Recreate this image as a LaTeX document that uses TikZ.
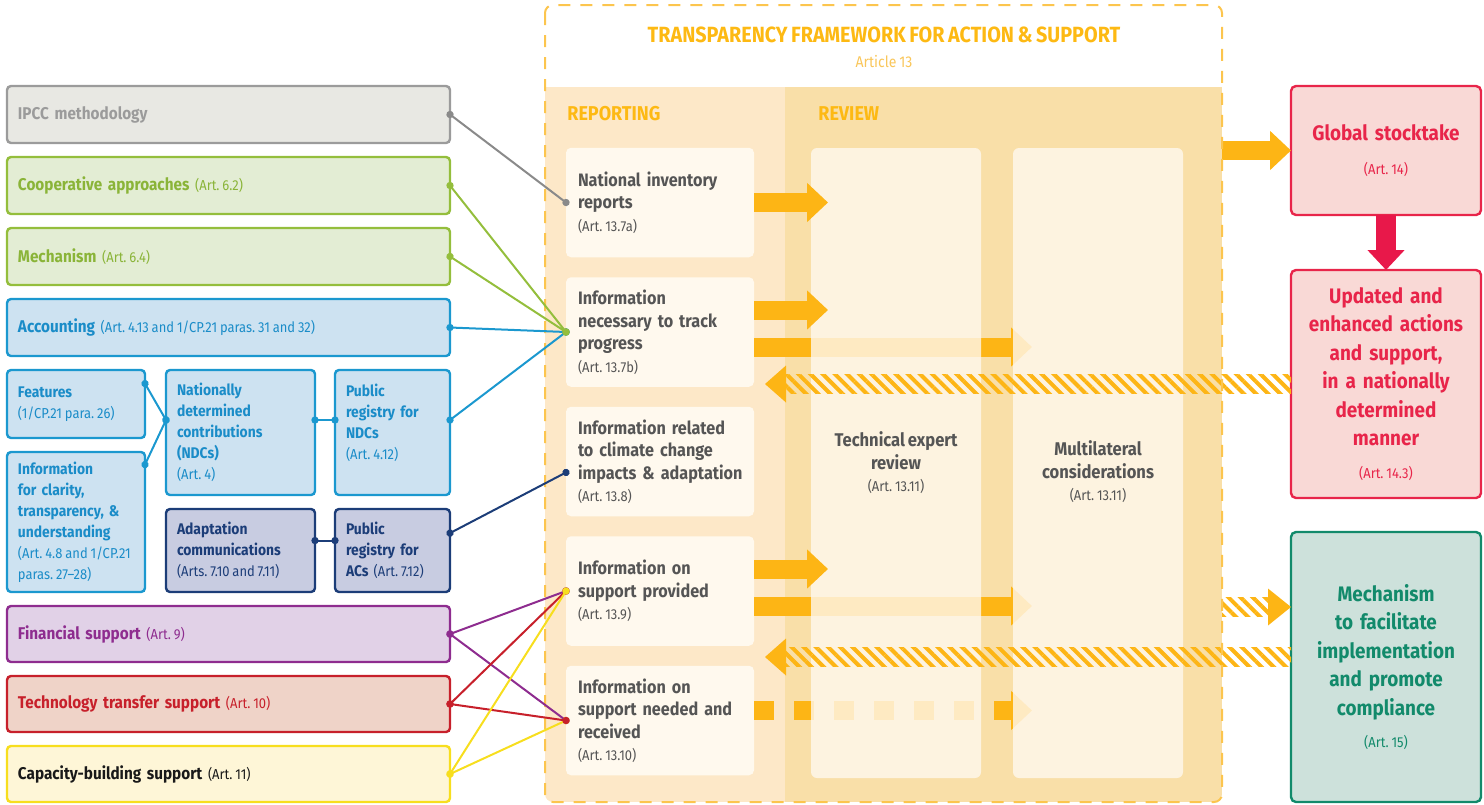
\documentclass[tikz,border=0pt]{standalone}
\usepackage{fontspec}
\setmainfont{Fira Sans}[FakeStretch=0.9, WordSpace=0.75]
\usepackage{tikz}
\usetikzlibrary{arrows.meta, positioning, calc, patterns.meta}

\definecolor{gryFg}{HTML}{9B9B9B}
\definecolor{gryBg}{HTML}{E8E8E3}
\definecolor{gryLn}{HTML}{8A8A8A}
\definecolor{grnFg}{HTML}{94BE3C}
\definecolor{grnTx}{HTML}{8AB438}
\definecolor{grnBg}{HTML}{E3EDD4}
\definecolor{bluFg}{HTML}{1B98CF}
\definecolor{bluTx}{HTML}{1A8CC8}
\definecolor{bluBg}{HTML}{CDE2F1}
\definecolor{navFg}{HTML}{1C3D78}
\definecolor{navBg}{HTML}{C8CCE1}
\definecolor{purFg}{HTML}{8E2C8F}
\definecolor{purBg}{HTML}{E1D1E7}
\definecolor{redFg}{HTML}{C7202B}
\definecolor{redBg}{HTML}{EFD3C8}
\definecolor{yelFg}{HTML}{F7DE1E}
\definecolor{yelBg}{HTML}{FEF6D7}
\definecolor{arrowOr}{HTML}{FDB515}
\definecolor{frameOr}{HTML}{FDB913}
\definecolor{frameLt}{HTML}{F9C65A}
\definecolor{frameDash}{HTML}{FCC54E}
\definecolor{repBg}{HTML}{FDE8C8}
\definecolor{revBg}{HTML}{F9DFA8}
\definecolor{boxBg}{HTML}{FFF9EE}
\definecolor{panelBg}{HTML}{FFF8EE}
\definecolor{txtGray}{HTML}{555555}
\definecolor{gstFg}{HTML}{E8254A}
\definecolor{gstBg}{HTML}{F9D9D6}
\definecolor{gstArrow}{HTML}{E8184A}
\definecolor{mfFg}{HTML}{128A6B}
\definecolor{mfBg}{HTML}{CDE1DB}

\frenchspacing
\newcommand{\art}[1]{{\fontsize{7.2}{8.5}\selectfont\mdseries\spaceskip=0.2em\relax #1}}

\begin{document}
\begin{tikzpicture}[x=0.5pt, y=-0.5pt,
  lbox/.style={draw, line width=1.2pt, outer sep=0pt, rounded corners=2pt, align=left, inner xsep=5.5pt},
  wide/.style={lbox, text width=210.5pt, minimum height=28.5pt, font=\fontsize{8.5}{10}\selectfont\bfseries},
  sbox/.style={lbox, font=\fontsize{7.7}{10.5}\selectfont\bfseries},
  grybox/.style={draw=gryFg, fill=gryBg, text=gryFg},
  grnbox/.style={draw=grnFg, fill=grnBg, text=grnTx},
  blubox/.style={draw=bluFg, fill=bluBg, text=bluTx},
  navbox/.style={draw=navFg, fill=navBg, text=navFg},
  purbox/.style={draw=purFg, fill=purBg, text=purFg},
  redbox/.style={draw=redFg, fill=redBg, text=redFg},
  yelbox/.style={draw=yelFg, fill=yelBg, text=black!90},
  rep/.style={fill=boxBg, outer sep=0pt, rounded corners=2.5pt, text width=82pt, inner xsep=6pt, minimum height=54.75pt,
    align=left, text=txtGray, font=\fontsize{9}{11.25}\selectfont\bfseries},
  panel/.style={fill=panelBg, fill opacity=0.8, text opacity=1, rounded corners=3pt, minimum width=85pt,
    minimum height=315pt, align=center, text=txtGray, font=\fontsize{9.2}{11.25}\selectfont\bfseries},
  rbox/.style={draw, line width=1.2pt, outer sep=0pt, rounded corners=2.5pt, text width=85pt, inner xsep=5pt, align=center,
    font=\fontsize{10.5}{14.25}\selectfont\bfseries},
  gstbox/.style={draw=gstFg, fill=gstBg, text=gstFg},
  mfbox/.style={draw=mfFg, fill=mfBg, text=mfFg},
  lab/.style={font=\fontsize{10}{12}\selectfont\bfseries, text=frameOr, anchor=west, inner sep=0pt},
  bigarrow/.style={line width=9.5pt, draw=arrowOr, -{Triangle[length=10.5pt, width=19pt]}},
  hatch/.style={pattern={Lines[angle=-45, distance=4.3pt, line width=2pt]}, pattern color=arrowOr},
  link/.style={line width=1pt, {Circle[length=3.6pt]}-{Circle[length=3.6pt]}, shorten <=-1.8pt, shorten >=-1.8pt},
]
\useasboundingbox (0,0) rectangle (1484,804);

% framework background: reporting and review bands
\begin{scope}
  \clip[rounded corners=4pt] (545,5) rectangle (1222,802);
  \fill[repBg] (545,87) rectangle (785,802);
  \fill[revBg] (785,87) rectangle (1222,802);
\end{scope}

\node[font=\fontsize{11}{12}\selectfont\bfseries, text=frameOr] (tftitle) at (884,35) {TRANSPARENCY FRAMEWORK FOR ACTION \& SUPPORT};
\node[font=\fontsize{7.8}{9}\selectfont, text=frameLt] (tfsub) at (884,62) {Article 13};
\node[lab] (replab) at (567,114) {REPORTING};
\node[lab] (revlab) at (818,114) {REVIEW};

% reporting column
\node[rep] (nir) at (660,202.5) {National inventory\\reports\\\art{(Art. 13.7a)}};
\node[rep, below=10pt of nir] (track) {Information\\necessary to track\\progress\\\art{(Art. 13.7b)}};
\node[rep, below=10pt of track] (impact) {Information related\\to climate change\\\mbox{impacts \& adaptation}\\\art{(Art. 13.8)}};
\node[rep, below=10pt of impact] (prov) {Information on\\support provided\\\art{(Art. 13.9)}};
\node[rep, below=10pt of prov] (need) {Information on\\support needed and\\received\\\art{(Art. 13.10)}};

% long arrows run under the review panels
\draw[bigarrow] ([yshift=-7.5pt]track.east) -- ++(278,0);
\draw[bigarrow] ([yshift=-7.5pt]prov.east) -- ++(278,0);
\draw[arrowOr, line width=9.5pt, dash pattern=on 10pt off 10pt] ([yshift=5pt]need.east) -- ++(242,0);
\draw[bigarrow] ([yshift=5pt]need.east) ++(242,0) -- ++(36,0);

% review column
\node[panel] (ter) at (896,463) {Technical expert\\review\\\art{(Art. 13.11)}};
\node[panel] (mlc) at (1098,463) {\mbox{}\\[5pt]Multilateral\\considerations\\\art{(Art. 13.11)}};

\draw[bigarrow] (nir.east) -- ++(74,0);
\draw[bigarrow] ([yshift=11pt]track.east) -- ++(74,0);
\draw[bigarrow] ([yshift=11pt]prov.east) -- ++(74,0);

% right column
\node[rbox, gstbox, minimum height=64.5pt] (gst) at (1386,150.5) {Global stocktake\\[3pt]\art{(Art. 14)}};
\node[rbox, gstbox, minimum height=114pt, below=27.5pt of gst] (upd) {Updated and\\\mbox{enhanced actions}\\and support,\\\mbox{in a nationally}\\determined\\manner\\[2pt]\art{(Art. 14.3)}};
\node[rbox, mfbox, minimum height=135pt] (mfic) at (1386,667) {Mechanism\\to facilitate\\implementation\\and promote\\compliance\\[2pt]\art{(Art. 15)}};

\draw[bigarrow] (gst.west) ++(-69,0) -- (gst.west);
\draw[bigarrow, draw=gstArrow, line width=10pt, -{Triangle[length=10pt, width=18pt]}] (gst.south) -- (upd.north);

% hatched feedback arrows
\fill[hatch] ($(upd.west)+(0,-9.5)$) rectangle ++(-505,19);
\fill[arrowOr] ($(upd.west)+(-505,-18.5)$) -- ++(-21,18.5) -- ++(21,18.5) -- cycle;
\fill[hatch] ($(mfic.west)+(0,-19.5)$) rectangle ++(-505,19);
\fill[arrowOr] ($(mfic.west)+(-505,-28.5)$) -- ++(-21,18.5) -- ++(21,18.5) -- cycle;
\fill[hatch] ($(mfic.west)+(-23,-69.5)$) rectangle ++(-46,19);
\fill[arrowOr] ($(mfic.west)+(-23,-78.5)$) -- ++(23,18.5) -- ++(-23,18.5) -- cycle;

% framework border
\draw[frameDash, line width=1pt, dash pattern=on 6pt off 5pt, rounded corners=4pt] (545,5) rectangle (1222,802);

% left column
\node[wide, grybox] (ipcc) at (228.5,114.5) {IPCC methodology};
\node[wide, grnbox, below=7pt of ipcc] (coop) {Cooperative approaches \art{(Art. 6.2)}};
\node[wide, grnbox, below=7pt of coop] (mech) {Mechanism \art{(Art. 6.4)}};
\node[wide, blubox, below=7pt of mech] (acct) {Accounting \art{(Art. 4.13 and 1/CP.21 paras. 31 and 32)}};
\node[sbox, blubox, text width=58pt, minimum height=34pt, below=7pt of acct.south west, anchor=north west] (feat)
  {Features\\\art{(1/CP.21 para. 26)}};
\node[sbox, blubox, text width=58pt, minimum height=70pt, below=7pt of feat.south west, anchor=north west] (clar)
  {Information\\for clarity,\\\mbox{transparency, \&}\\understanding\\\art{\mbox{(Art. 4.8 and 1/CP.21}}\\\art{paras. 27--28)}};
\node[sbox, blubox, text width=63.5pt, minimum height=62.5pt, right=10.5pt of feat.north east, anchor=north west] (ndc)
  {Nationally\\determined\\contributions\\(NDCs)\\\art{(Art. 4)}};
\node[sbox, blubox, text width=46.5pt, minimum height=62.5pt, right=10pt of ndc] (regndc)
  {Public\\registry for\\NDCs\\\art{(Art. 4.12)}\\\mbox{}};
\node[sbox, navbox, text width=63.5pt, minimum height=41.5pt, below=7pt of ndc] (adapt)
  {Adaptation\\communications\\\art{\mbox{(Arts. 7.10 and 7.11)}}};
\node[sbox, navbox, text width=46.5pt, minimum height=41.5pt, right=10pt of adapt] (regac)
  {Public\\registry for\\\mbox{ACs \art{(Art. 7.12)}}};
\node[wide, purbox, minimum height=28pt, below=7pt of clar.south west, anchor=north west] (fin) {Financial support \art{(Art. 9)}};
\node[wide, redbox, minimum height=28pt, below=7pt of fin] (ttr) {Technology transfer support \art{(Art. 10)}};
\node[wide, yelbox, minimum height=28pt, below=7pt of ttr] (cbs) {Capacity-building support \art{(Art. 11)}};

% link points on box edges
\coordinate (featR) at ($(feat.north east)!0.2!(feat.south east)$);
\coordinate (clarR) at ($(clar.north east)!0.09!(clar.south east)$);
\coordinate (ndcL) at ($(ndc.north west)!0.4!(ndc.south west)$);
\coordinate (ndcR) at ($(ndc.north east)!0.4!(ndc.south east)$);
\coordinate (regndcL) at ($(regndc.north west)!0.4!(regndc.south west)$);
\coordinate (regndcR) at ($(regndc.north east)!0.4!(regndc.south east)$);
\coordinate (adaptR) at ($(adapt.north east)!0.38!(adapt.south east)$);
\coordinate (regacL) at ($(regac.north west)!0.38!(regac.south west)$);
\coordinate (regacR) at ($(regac.north east)!0.29!(regac.south east)$);
\coordinate (impactL) at ($(impact.north west)!0.6!(impact.south west)$);

\draw[link, gryLn] (ipcc.east) -- (nir.west);
\draw[link, bluFg] (acct.east) -- (track.west);
\draw[link, bluFg] (regndcR) -- (track.west);
\draw[link, grnFg] (coop.east) -- (track.west);
\draw[link, grnFg] (mech.east) -- (track.west);
\draw[link, bluFg] (featR) -- (ndcL);
\draw[link, bluFg] (clarR) -- (ndcL);
\draw[link, bluFg] (ndcR) -- (regndcL);
\draw[link, navFg] (adaptR) -- (regacL);
\draw[link, navFg] (regacR) -- (impactL);
\draw[link, purFg] (fin.east) -- (prov.west);
\draw[link, purFg] (fin.east) -- (need.west);
\draw[link, yelFg] (cbs.east) -- (need.west);
\draw[link, redFg] (ttr.east) -- (prov.west);
\draw[link, redFg] (ttr.east) -- (need.west);
\draw[link, yelFg] (cbs.east) -- (prov.west);
\end{tikzpicture}
\end{document}
